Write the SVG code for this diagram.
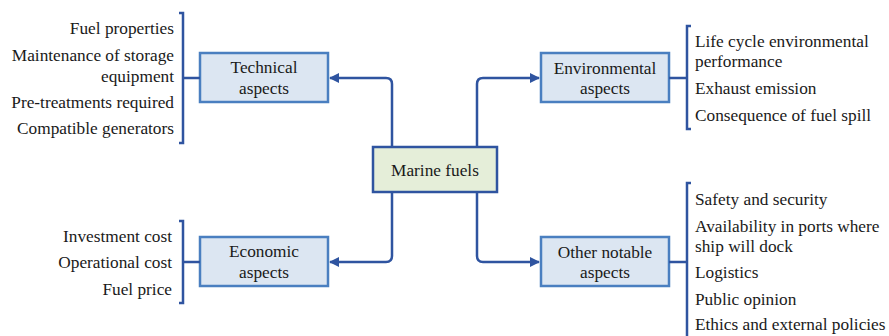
<svg xmlns="http://www.w3.org/2000/svg" width="889" height="336" viewBox="0 0 889 336" font-family="'Liberation Serif', 'DejaVu Serif', serif">
<defs>
<style>
text{font-family:'Liberation Serif','Times New Roman','DejaVu Serif',serif;font-size:17.3px;fill:#1a1a1a}
.box{fill:#dce6f2;stroke:#4a7fc0;stroke-width:2.5}
.root{fill:#e5eed9;stroke:#2f54a0;stroke-width:2.5}
.con{fill:none;stroke:#2f54a0;stroke-width:2.5;stroke-linejoin:round}
.br{fill:none;stroke:#2f54a0;stroke-width:2.5}
.c{text-anchor:middle}
.r{text-anchor:end}
</style>
<marker id="arr" viewBox="0 0 10 10" refX="9" refY="5" markerWidth="4" markerHeight="4" orient="auto-start-reverse" markerUnits="strokeWidth">
<path d="M0,0 L10,5 L0,10 z" fill="#2f54a0"/>
</marker>
</defs>
<rect width="889" height="336" fill="#fff"/>
<g id="connectors">
<path class="con" d="M392,147 V84 Q392,78 386,78 H330" marker-end="url(#arr)"/>
<path class="con" d="M392,192 V256 Q392,262 386,262 H330" marker-end="url(#arr)"/>
<path class="con" d="M477,147 V84 Q477,78 483,78 H539" marker-end="url(#arr)"/>
<path class="con" d="M477,192 V256 Q477,262 483,262 H539" marker-end="url(#arr)"/>
</g>
<g id="root">
<rect class="root" x="373" y="147" width="124" height="45"/>
<text class="c" x="435" y="176">Marine fuels</text>
</g>
<g id="technical">
<rect class="box" x="200" y="53" width="128" height="49"/>
<text class="c" x="264" y="73">Technical</text>
<text class="c" x="264" y="94">aspects</text>
<path class="br" d="M179,13 H183 V143 H179 M183,78 H200"/>
<text class="r" x="174" y="34">Fuel properties</text>
<text class="r" x="174" y="61">Maintenance of storage</text>
<text class="r" x="174" y="82">equipment</text>
<text class="r" x="174" y="108">Pre-treatments required</text>
<text class="r" x="174" y="134">Compatible generators</text>
</g>
<g id="environmental">
<rect class="box" x="541" y="53" width="128" height="49"/>
<text class="c" x="605" y="74">Environmental</text>
<text class="c" x="605" y="94">aspects</text>
<path class="br" d="M691,26 H687 V129 H691 M669,78 H687"/>
<text x="695" y="47">Life cycle environmental</text>
<text x="695" y="67">performance</text>
<text x="695" y="94">Exhaust emission</text>
<text x="695" y="121">Consequence of fuel spill</text>
</g>
<g id="economic">
<rect class="box" x="200" y="237" width="128" height="49"/>
<text class="c" x="264" y="257">Economic</text>
<text class="c" x="264" y="278">aspects</text>
<path class="br" d="M179,221 H183 V303 H179 M183,262 H200"/>
<text class="r" x="172" y="242">Investment cost</text>
<text class="r" x="172" y="268">Operational cost</text>
<text class="r" x="172" y="295">Fuel price</text>
</g>
<g id="other">
<rect class="box" x="541" y="237" width="128" height="49"/>
<text class="c" x="605" y="258">Other notable</text>
<text class="c" x="605" y="278">aspects</text>
<path class="br" d="M691,183 H687 V340 M669,262 H687"/>
<text x="695" y="205">Safety and security</text>
<text x="695" y="232">Availability in ports where</text>
<text x="695" y="252">ship will dock</text>
<text x="695" y="278">Logistics</text>
<text x="695" y="305">Public opinion</text>
<text x="695" y="330">Ethics and external policies</text>
</g>
</svg>
